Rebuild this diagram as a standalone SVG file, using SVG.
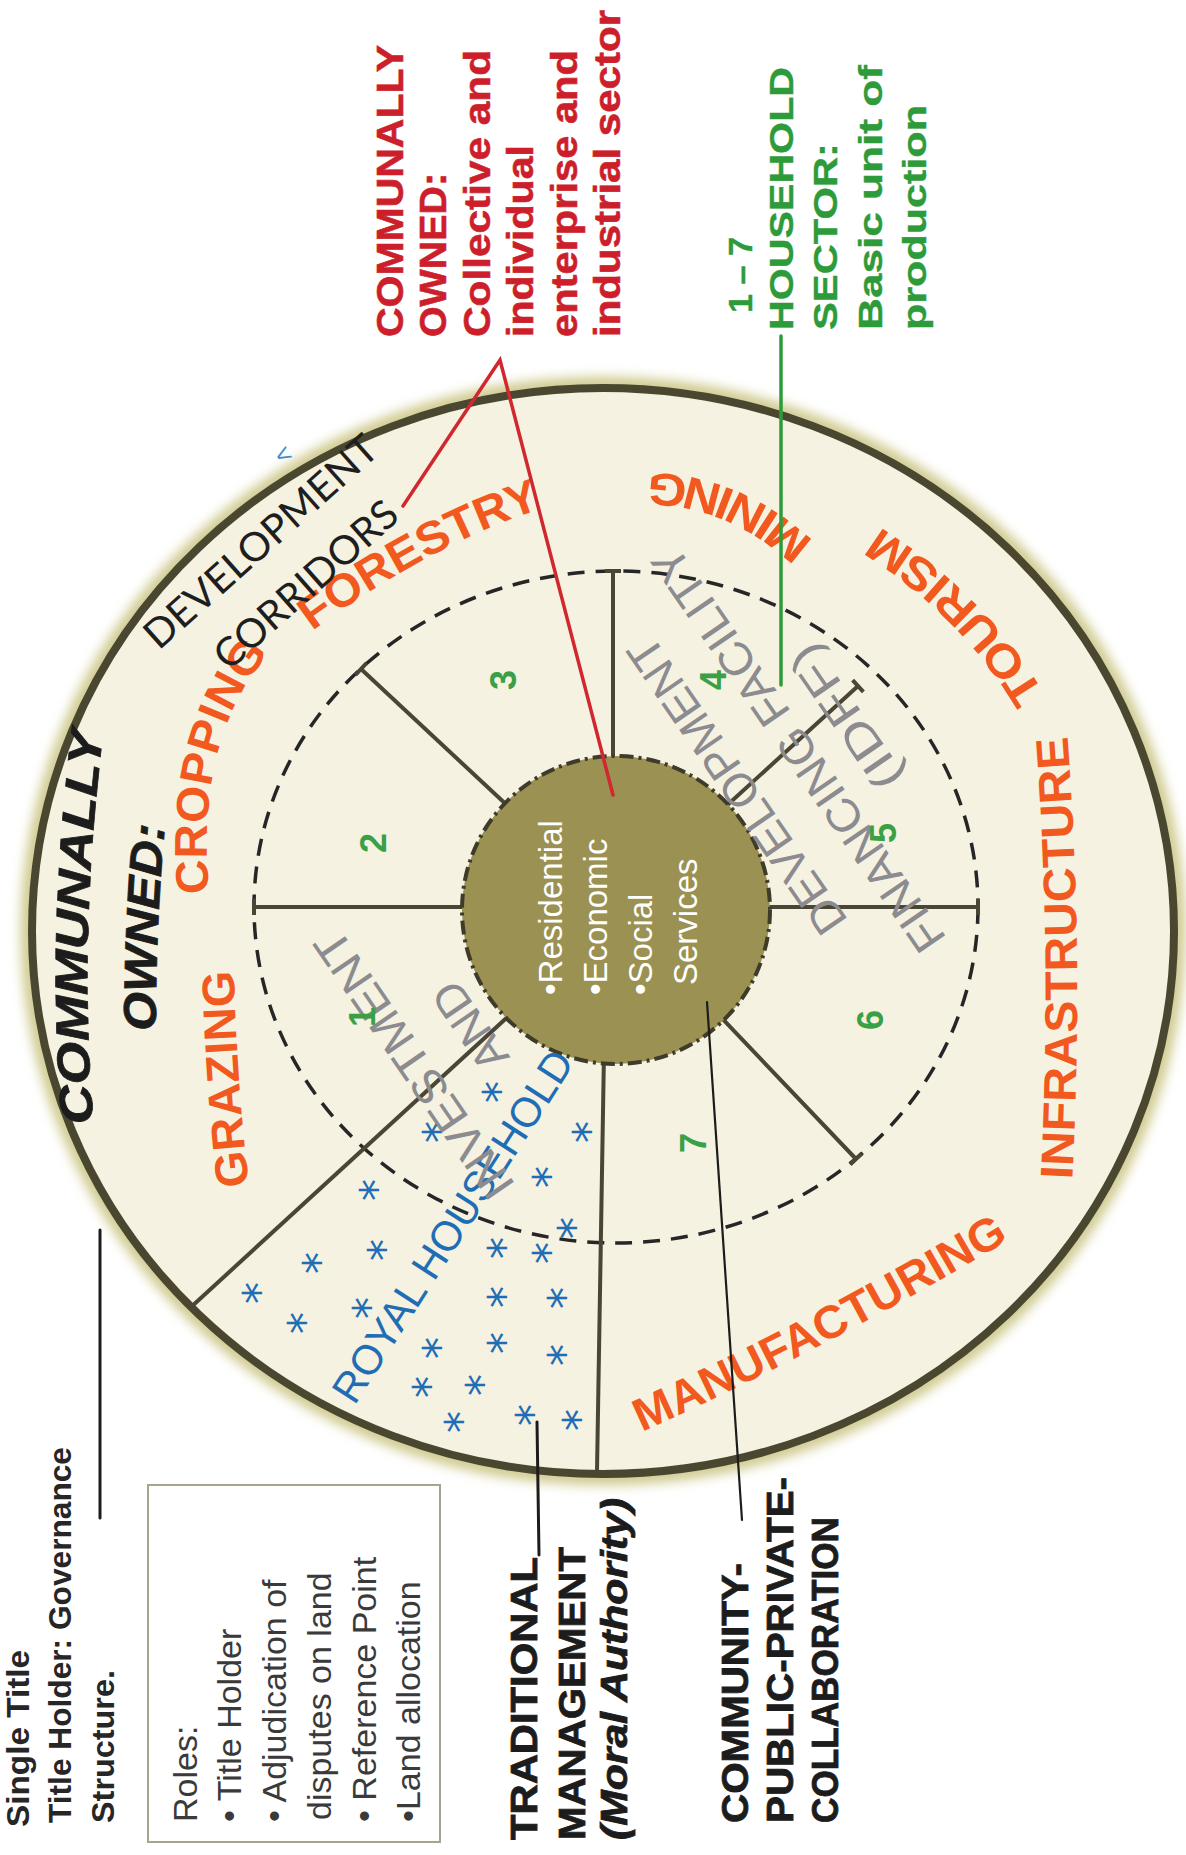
<svg xmlns="http://www.w3.org/2000/svg" width="1186" height="1855" viewBox="0 0 1186 1855">
<style>
  .sans{font-family:"Liberation Sans",Arial,sans-serif}
  .ring{font-family:"Liberation Sans",Arial,sans-serif;font-weight:bold;fill:#f2591f;font-size:46px}
  .own{font-family:"Liberation Sans",Arial,sans-serif;font-weight:bold;font-style:italic;fill:#1c1c1c;font-size:46px;stroke:#1c1c1c;stroke-width:0.8}
  .corr{font-family:Lato,"Open Sans",sans-serif;fill:#1e1e1e;font-size:40px}
  .royal{font-family:"Liberation Sans",Arial,sans-serif;fill:#1f6db4;font-size:42px}
  .idff{font-family:"Liberation Sans",Arial,sans-serif;fill:#8b8b90;font-size:46px}
  .num{font-family:"Liberation Sans",Arial,sans-serif;font-weight:bold;fill:#3aa046;font-size:36px}
  .ast{font-family:"DejaVu Sans",sans-serif;fill:#1f6db4;font-size:44px}
  .hub{font-family:"Liberation Sans",Arial,sans-serif;fill:#ffffff;font-size:33px}
  .red{font-family:"Liberation Sans",Arial,sans-serif;font-weight:bold;fill:#cc1f2b;font-size:36px;stroke:#cc1f2b;stroke-width:0.6}
  .grn{font-family:"Liberation Sans",Arial,sans-serif;font-weight:bold;fill:#2e9b3b;font-size:34px;stroke:#2e9b3b;stroke-width:0.4}
  .blk{font-family:"Liberation Sans",Arial,sans-serif;font-weight:bold;fill:#1c1c1c;font-size:37px;stroke:#1c1c1c;stroke-width:0.8}
  .note{font-family:"Liberation Sans",Arial,sans-serif;fill:#262626;font-size:31px;font-weight:bold}
  .roles{font-family:"Liberation Sans",Arial,sans-serif;fill:#3a3a3a;font-size:34px}
  .spoke{stroke:#4a4534;stroke-width:4;fill:none;stroke-linecap:butt}
  .lead{fill:none;stroke-linecap:round}
</style>
<defs>
  <filter id="halo" x="-10%" y="-10%" width="120%" height="120%">
    <feGaussianBlur stdDeviation="6"/>
  </filter>
  <!-- baselines for the curved sector names -->
  <path id="p-grazing" d="M253.6,1225.7 L249,1186 Q236.5,1078 234,970 L233.1,930"/>
  <path id="p-cropping" d="M212.5,930.8 L209,891 Q195.5,739 268,655 L294.1,624.7"/>
  <path id="p-forestry" d="M278.9,655.8 L311,632 Q427,546 543,508 L581,495.6"/>
  <path id="p-mining" d="M843.4,569.2 L814,542 Q741,474.5 648,473 L608,472.4"/>
  <path id="p-tourism" d="M1102.3,847.3 A507,482 0 0 0 727.4,463.7"/>
  <path id="p-infra" d="M1069.8,1226 L1072,1186 Q1084.5,958 1067,730 L1063.9,690.1"/>
  <path id="p-manu" d="M600.4,1450.2 L637,1434 Q820.5,1352.5 1014,1237 L1048.4,1216.5"/>
  <path id="p-communally" d="M97.6,1167.8 L94,1128 Q77,940.5 104,727 L109,687.3"/>
  <path id="p-owned" d="M156.4,1082 L156,1042 Q155,928 166,814 L169.8,774.2"/>
  <text id="ast" class="ast" transform="rotate(-90)" x="0" y="25" text-anchor="middle">*</text>
</defs>

<rect width="1186" height="1855" fill="#ffffff"/>

<!-- outer disk -->
<g id="territory">
  <ellipse cx="603" cy="931" rx="574" ry="546" fill="none" stroke="#cdc88a" stroke-width="16" filter="url(#halo)"/>
  <ellipse cx="603" cy="931" rx="571" ry="543" fill="#f5f2e1" stroke="#4a4731" stroke-width="8"/>
</g>

<!-- dashed household ring and sector dividers -->
<g id="sectors">
  <ellipse cx="616" cy="907" rx="362" ry="336" fill="none" stroke="#262626" stroke-width="3.5" stroke-dasharray="17 11"/>
  <path class="spoke" d="M470,907 L254,907 M254,899 L254,915"/>
  <path class="spoke" d="M510,808 L361,669 M366.5,663.2 L355.5,674.8"/>
  <path class="spoke" d="M613,762 L613,571 M605,571 L621,571"/>
  <path class="spoke" d="M723,809 L858,686 M852.6,680.1 L863.4,691.9"/>
  <path class="spoke" d="M762,907 L978,907 M978,899 L978,915"/>
  <path class="spoke" d="M716,1012 L856,1159 M850.2,1164.5 L861.8,1153.5"/>
  <path class="spoke" d="M604,1052 L597,1471"/>
  <path class="spoke" d="M514,1011 L190,1308"/>
</g>

<!-- central settlement -->
<g id="hub">
  <circle cx="616" cy="910" r="154" fill="#9a9152" stroke="#3f3b2a" stroke-width="4" stroke-dasharray="14 5 3 5"/>
  <text class="hub" transform="translate(562,995) rotate(-90)">•Residential</text>
  <text class="hub" transform="translate(607,995) rotate(-90)">•Economic</text>
  <text class="hub" transform="translate(652,995) rotate(-90)">•Social</text>
  <text class="hub" transform="translate(697,985) rotate(-90)">Services</text>
</g>

<!-- sector names on the outer ring -->
<g id="corridors">
  <text class="ring"><textPath href="#p-grazing" startOffset="50%" text-anchor="middle" textLength="216" lengthAdjust="spacingAndGlyphs">GRAZING</textPath></text>
  <text class="ring"><textPath href="#p-cropping" startOffset="50%" text-anchor="middle" textLength="255" lengthAdjust="spacingAndGlyphs">CROPPING</textPath></text>
  <text class="ring"><textPath href="#p-forestry" startOffset="50%" text-anchor="middle" textLength="262" lengthAdjust="spacingAndGlyphs">FORESTRY</textPath></text>
  <text class="ring"><textPath href="#p-mining" startOffset="50%" text-anchor="middle" textLength="182" lengthAdjust="spacingAndGlyphs">MINING</textPath></text>
  <text class="ring"><textPath href="#p-tourism" startOffset="50%" text-anchor="middle" textLength="236" lengthAdjust="spacingAndGlyphs">TOURISM</textPath></text>
  <text class="ring"><textPath href="#p-infra" startOffset="50%" text-anchor="middle" textLength="444" lengthAdjust="spacingAndGlyphs">INFRASTRUCTURE</textPath></text>
  <text class="ring"><textPath href="#p-manu" startOffset="50%" text-anchor="middle" textLength="415" lengthAdjust="spacingAndGlyphs">MANUFACTURING</textPath></text>
  <text class="own"><textPath href="#p-communally" startOffset="50%" text-anchor="middle" textLength="392" lengthAdjust="spacingAndGlyphs">COMMUNALLY</textPath></text>
  <text class="own"><textPath href="#p-owned" startOffset="50%" text-anchor="middle" textLength="206" lengthAdjust="spacingAndGlyphs">OWNED:</textPath></text>
  <text class="corr" transform="translate(270,552) rotate(-41.7)" text-anchor="middle" textLength="298" lengthAdjust="spacingAndGlyphs">DEVELOPMENT</text>
  <text class="corr" transform="translate(315,595) rotate(-41.6)" text-anchor="middle" textLength="231" lengthAdjust="spacingAndGlyphs">CORRIDORS</text>
  <text class="sans" transform="translate(281,466) rotate(-30)" font-size="26" fill="#3a8ed0">&lt;</text>
</g>

<!-- royal household sector -->
<g id="royal-household">
  <use href="#ast" x="490" y="1092"/>
  <use href="#ast" x="430" y="1132"/>
  <use href="#ast" x="580" y="1132"/>
  <use href="#ast" x="540" y="1177"/>
  <use href="#ast" x="367" y="1190"/>
  <use href="#ast" x="565" y="1228"/>
  <use href="#ast" x="495" y="1248"/>
  <use href="#ast" x="540" y="1253"/>
  <use href="#ast" x="375" y="1250"/>
  <use href="#ast" x="310" y="1263"/>
  <use href="#ast" x="250" y="1293"/>
  <use href="#ast" x="495" y="1297"/>
  <use href="#ast" x="555" y="1298"/>
  <use href="#ast" x="360" y="1308"/>
  <use href="#ast" x="295" y="1323"/>
  <use href="#ast" x="430" y="1348"/>
  <use href="#ast" x="495" y="1343"/>
  <use href="#ast" x="555" y="1355"/>
  <use href="#ast" x="420" y="1387"/>
  <use href="#ast" x="473" y="1385"/>
  <use href="#ast" x="452" y="1422"/>
  <use href="#ast" x="523" y="1415"/>
  <use href="#ast" x="570" y="1420"/>
  <text class="royal" transform="translate(465,1234) rotate(-57.3)" text-anchor="middle" textLength="409" lengthAdjust="spacingAndGlyphs">ROYAL HOUSEHOLD</text>
</g>

<!-- investment facility label -->
<g id="idff" transform="translate(616,907) rotate(-124.5)">
  <text class="idff" x="-15.5" y="-240" text-anchor="middle" textLength="315" lengthAdjust="spacingAndGlyphs">INVESTMENT</text>
  <text class="idff" x="-15.5" y="-172" text-anchor="middle">AND</text>
  <text class="idff" x="31.5" y="184" text-anchor="middle" textLength="349" lengthAdjust="spacingAndGlyphs">DEVELOPMENT</text>
  <text class="idff" x="26.4" y="255" text-anchor="middle" textLength="480" lengthAdjust="spacingAndGlyphs">FINANCING FACILITY</text>
  <text class="idff" x="26" y="313" text-anchor="middle" textLength="166" lengthAdjust="spacingAndGlyphs">(IDFF)</text>
</g>

<!-- household plot numbers -->
<g id="households">
  <text class="num" transform="translate(362,1017) rotate(-90)" x="0" y="13" text-anchor="middle">1</text>
  <text class="num" transform="translate(373,843) rotate(-90)" x="0" y="13" text-anchor="middle">2</text>
  <text class="num" transform="translate(503,680) rotate(-90)" x="0" y="13" text-anchor="middle">3</text>
  <text class="num" transform="translate(713,680) rotate(-90)" x="0" y="13" text-anchor="middle">4</text>
  <text class="num" transform="translate(883,833) rotate(-90)" x="0" y="13" text-anchor="middle">5</text>
  <text class="num" transform="translate(870,1020) rotate(-90)" x="0" y="13" text-anchor="middle">6</text>
  <text class="num" transform="translate(693,1143) rotate(-90)" x="0" y="13" text-anchor="middle">7</text>
</g>

<!-- leader lines -->
<g id="connectors">
  <path class="lead" d="M403,506 L500,360 L613,795" stroke="#d0282e" stroke-width="3.5"/>
  <path class="lead" d="M781,336 L781,685" stroke="#2e9b3b" stroke-width="3.5"/>
  <path class="lead" d="M100,1230 L100,1518" stroke="#1c1c1c" stroke-width="3"/>
  <path class="lead" d="M537,1422 L539,1555" stroke="#1c1c1c" stroke-width="3"/>
  <path class="lead" d="M707,1002 L742,1520" stroke="#1c1c1c" stroke-width="2.2"/>
</g>

<!-- communal ownership note -->
<g id="communal-note">
  <text class="red" transform="translate(403,337) rotate(-90)" textLength="292" lengthAdjust="spacingAndGlyphs">COMMUNALLY</text>
  <text class="red" transform="translate(446,337) rotate(-90)" textLength="164" lengthAdjust="spacingAndGlyphs">OWNED:</text>
  <text class="red" transform="translate(490,337) rotate(-90)" textLength="287" lengthAdjust="spacingAndGlyphs">Collective and</text>
  <text class="red" transform="translate(533,337) rotate(-90)" textLength="192" lengthAdjust="spacingAndGlyphs">individual</text>
  <text class="red" transform="translate(577,337) rotate(-90)" textLength="287" lengthAdjust="spacingAndGlyphs">enterprise and</text>
  <text class="red" transform="translate(620,337) rotate(-90)" textLength="327" lengthAdjust="spacingAndGlyphs">industrial sector</text>
</g>

<!-- household sector note -->
<g id="household-note">
  <text class="grn" transform="translate(752,313) rotate(-90)" textLength="76" lengthAdjust="spacingAndGlyphs">1 – 7</text>
  <text class="grn" transform="translate(793,330) rotate(-90)" textLength="263" lengthAdjust="spacingAndGlyphs">HOUSEHOLD</text>
  <text class="grn" transform="translate(837,330) rotate(-90)" textLength="187" lengthAdjust="spacingAndGlyphs">SECTOR:</text>
  <text class="grn" transform="translate(882,330) rotate(-90)" textLength="265" lengthAdjust="spacingAndGlyphs">Basic unit of</text>
  <text class="grn" transform="translate(926,330) rotate(-90)" textLength="225" lengthAdjust="spacingAndGlyphs">production</text>
</g>

<!-- title holder note -->
<g id="title-note">
  <text class="note" transform="translate(29,1827) rotate(-90)" textLength="177" lengthAdjust="spacingAndGlyphs">Single Title</text>
  <text class="note" transform="translate(71,1823) rotate(-90)" textLength="376" lengthAdjust="spacingAndGlyphs">Title Holder: Governance</text>
  <text class="note" transform="translate(114,1823) rotate(-90)" textLength="153" lengthAdjust="spacingAndGlyphs">Structure.</text>
</g>

<!-- roles box -->
<g id="roles">
  <rect x="148" y="1485" width="292" height="357" fill="none" stroke="#a8a48c" stroke-width="2"/>
  <text class="roles" transform="translate(197,1822) rotate(-90)">Roles:</text>
  <text class="roles" transform="translate(241,1822) rotate(-90)">• Title Holder</text>
  <text class="roles" transform="translate(286,1822) rotate(-90)">• Adjudication of</text>
  <text class="roles" transform="translate(331,1820) rotate(-90)">disputes on land</text>
  <text class="roles" transform="translate(376,1822) rotate(-90)">• Reference Point</text>
  <text class="roles" transform="translate(420,1822) rotate(-90)">•Land allocation</text>
</g>

<!-- traditional management label -->
<g id="traditional">
  <text class="blk" transform="translate(537,1840) rotate(-90)" textLength="283" lengthAdjust="spacingAndGlyphs">TRADITIONAL</text>
  <text class="blk" transform="translate(585,1840) rotate(-90)" textLength="293" lengthAdjust="spacingAndGlyphs">MANAGEMENT</text>
  <text class="blk" transform="translate(627,1840) rotate(-90)" font-style="italic" textLength="342" lengthAdjust="spacingAndGlyphs">(Moral Authority)</text>
</g>

<!-- collaboration label -->
<g id="collaboration">
  <text class="blk" transform="translate(748,1823) rotate(-90)" textLength="260" lengthAdjust="spacingAndGlyphs">COMMUNITY-</text>
  <text class="blk" transform="translate(793,1823) rotate(-90)" textLength="346" lengthAdjust="spacingAndGlyphs">PUBLIC-PRIVATE-</text>
  <text class="blk" transform="translate(838,1823) rotate(-90)" textLength="306" lengthAdjust="spacingAndGlyphs">COLLABORATION</text>
</g>
</svg>
